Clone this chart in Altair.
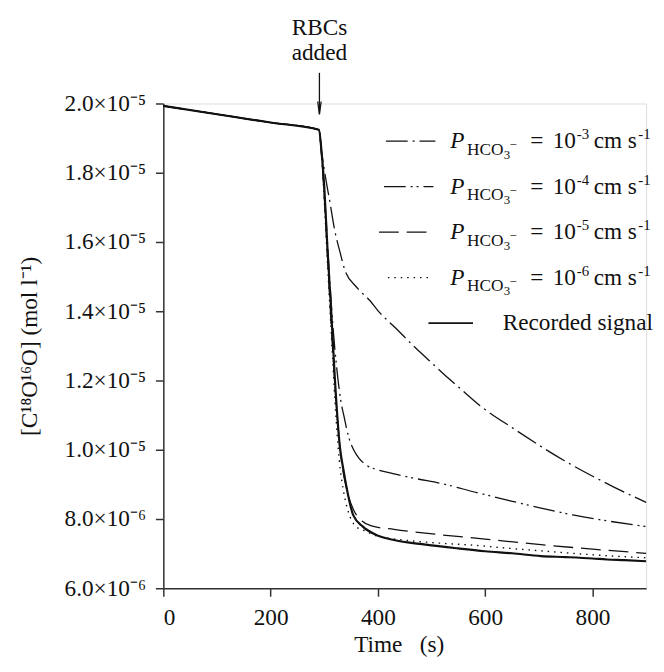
import altair as alt
import pandas as pd

# ---------------- data ----------------
t_rec = [0, 100, 200, 290, 295, 300, 306, 313, 320, 329, 336, 342, 354, 372, 397, 428,
         489, 550, 600, 650, 704, 750, 800, 827, 860, 900]
v_rec = [1.993e-5, 1.969e-5, 1.945e-5, 1.924e-5, 1.86e-5, 1.76e-5, 1.58e-5, 1.40e-5,
         1.20e-5, 1.01e-5, 9.4e-6, 8.88e-6, 8.11e-6, 7.78e-6, 7.54e-6, 7.40e-6,
         7.26e-6, 7.15e-6, 7.07e-6, 7.01e-6, 6.93e-6, 6.90e-6, 6.86e-6, 6.83e-6, 6.81e-6, 6.78e-6]

t_p3 = [0, 100, 200, 290, 295, 298, 301, 311, 320, 329, 338, 360, 385, 400, 434, 471, 501, 531,
        557, 590, 655, 747, 839, 900]
v_p3 = [1.993e-5, 1.969e-5, 1.945e-5, 1.924e-5, 1.86e-5, 1.83e-5, 1.80e-5, 1.711e-5, 1.63e-5,
        1.573e-5, 1.521e-5, 1.47e-5, 1.431e-5, 1.402e-5, 1.35e-5, 1.293e-5, 1.25e-5, 1.207e-5,
        1.172e-5, 1.128e-5, 1.059e-5, 9.69e-6, 8.93e-6, 8.48e-6]

t_p4 = [0, 100, 200, 290, 296, 302, 309, 316, 323, 330, 338, 345, 354, 365, 378, 400, 428, 470,
        520, 580, 643, 700, 766, 830, 900]
v_p4 = [1.993e-5, 1.969e-5, 1.945e-5, 1.924e-5, 1.84e-5, 1.70e-5, 1.52e-5, 1.36e-5, 1.24e-5,
        1.15e-5, 1.088e-5, 1.04e-5, 1.002e-5, 9.75e-6, 9.56e-6, 9.42e-6, 9.31e-6, 9.17e-6,
        9.02e-6, 8.78e-6, 8.54e-6, 8.33e-6, 8.11e-6, 7.94e-6, 7.78e-6]

t_p5 = [0, 100, 200, 290, 296, 302, 309, 316, 324, 332, 342, 355, 370, 388, 430, 520, 600, 704,
        800, 900]
v_p5 = [1.993e-5, 1.969e-5, 1.945e-5, 1.924e-5, 1.83e-5, 1.68e-5, 1.47e-5, 1.28e-5, 1.10e-5,
        9.7e-6, 8.85e-6, 8.25e-6, 7.95e-6, 7.80e-6, 7.70e-6, 7.54e-6, 7.42e-6, 7.26e-6,
        7.13e-6, 7.01e-6]

t_p6 = [0, 100, 200, 290, 295, 300, 306, 313, 320, 328, 336, 345, 358, 375, 400, 428, 500, 581,
        640, 704, 770, 827, 900]
v_p6 = [1.993e-5, 1.969e-5, 1.945e-5, 1.924e-5, 1.85e-5, 1.72e-5, 1.54e-5, 1.34e-5, 1.14e-5,
        9.7e-6, 8.8e-6, 8.2e-6, 7.8e-6, 7.66e-6, 7.50e-6, 7.43e-6, 7.32e-6, 7.24e-6,
        7.16e-6, 7.08e-6, 7.00e-6, 6.94e-6, 6.88e-6]

x_ticks = [0, 200, 400, 600, 800]
y_ticks = [6e-6, 8e-6, 1.0e-5, 1.2e-5, 1.4e-5, 1.6e-5, 1.8e-5, 2.0e-5]
exponents = ["-3", "-4", "-5", "-6"]
rbc_time = 291

# ---------------- style ----------------
FONT = "Liberation Serif"
FS = 23.5
INK = "#111111"
AX = "#333333"
W, H = 488, 490
OX, OY = 165, 101  # page position of plot origin

x_scale = alt.Scale(domain=[0, 900], nice=False, zero=False)
y_scale = alt.Scale(domain=[6e-6, 2e-5], nice=False, zero=False)

label_expr = ("datum.value >= 0.95e-5 ? format(datum.value*1e5, '.1f') + '×10⁻⁵' "
              ": format(datum.value*1e6, '.1f') + '×10⁻⁶'")

x_axis = alt.Axis(values=x_ticks, title="Time\u00a0\u00a0 (s)", grid=False,
                  labelFont=FONT, labelFontSize=FS, labelColor=INK,
                  titleFont=FONT, titleFontSize=FS, titleFontWeight="normal", titleColor=INK,
                  tickSize=8, tickWidth=1.5, tickColor=AX, domainColor=AX, domainWidth=1.5,
                  labelPadding=10, titleX=238, titleY=64, titleBaseline="alphabetic")
y_axis = alt.Axis(values=y_ticks, labelExpr=label_expr, title="[C¹⁸O¹⁶O] (mol l⁻¹)", grid=False,
                  labelFont=FONT, labelFontSize=FS, labelColor=INK,
                  titleFont=FONT, titleFontSize=FS, titleFontWeight="normal", titleColor=INK,
                  tickSize=8, tickWidth=1.5, tickColor=AX, domainColor=AX, domainWidth=1.5,
                  labelPadding=10, titleX=-128, titleY=H / 2, titleAngle=270,
                  titleBaseline="alphabetic", titleAlign="center")


def curve(ts, vs, dash, width):
    df = pd.DataFrame({"t": ts, "v": vs})
    kw = dict(interpolate="monotone", color=INK, strokeWidth=width)
    if dash:
        kw["strokeDash"] = dash
    return alt.Chart(df).mark_line(**kw).encode(
        x=alt.X("t:Q", scale=x_scale, axis=x_axis),
        y=alt.Y("v:Q", scale=y_scale, axis=y_axis),
    )


DASHES = [[22, 5, 2, 5], [22, 5, 2, 4, 2, 5], [20, 8], [1.5, 5]]

layers = [
    curve(t_p3, v_p3, DASHES[0], 1.3),
    curve(t_p4, v_p4, DASHES[1], 1.3),
    curve(t_p5, v_p5, DASHES[2], 1.3),
    curve(t_p6, v_p6, DASHES[3], 1.4),
    curve(t_rec, v_rec, None, 2.2),
]

one = alt.Data(values=[{}])


def txt(s, x, y, size=FS, italic=False, align="left"):
    kw = dict(text=s, font=FONT, fontSize=size, align=align, baseline="alphabetic", color=INK)
    if italic:
        kw["fontStyle"] = "italic"
    return alt.Chart(one).mark_text(**kw).encode(x=alt.value(x - OX), y=alt.value(y - OY))


def sample(x1, x2, y, dash, width):
    kw = dict(color=INK, strokeWidth=width)
    if dash:
        kw["strokeDash"] = dash
    return alt.Chart(one).mark_rule(**kw).encode(
        x=alt.value(x1 - OX), x2=alt.value(x2 - OX), y=alt.value(y - OY))


# legend
sample_spans = [(390, 440), (388, 438), (383, 438), (392, 435)]
for i, ex in enumerate(exponents):
    c = 139 + 46 * i
    b = c + 7
    x1, x2 = sample_spans[i]
    layers.append(sample(x1, x2, c, DASHES[i], 1.4))
    layers.append(txt("P", 455, b, italic=True))
    layers.append(txt("HCO", 472, b + 7, size=17.5))
    layers.append(txt("3", 509, b + 11, size=13))
    layers.append(txt("−", 515, b + 1, size=13))
    layers.append(txt("=", 536, b))
    layers.append(txt("10", 582, b, align="right"))
    layers.append(txt(ex, 583, b - 9, size=15))
    layers.append(txt("cm s", 600, b))
    layers.append(txt("-1", 645, b - 9, size=15))

layers.append(sample(433, 478, 323, None, 2.0))
layers.append(txt("Recorded signal", 508, 330))

# RBCs added annotation
ann = pd.DataFrame({"t": [rbc_time]})
layers.append(alt.Chart(ann).mark_text(text="RBCs", font=FONT, fontSize=FS, align="center",
                                       baseline="alphabetic", color=INK)
              .encode(x=alt.X("t:Q", scale=x_scale), y=alt.value(32 - OY)))
layers.append(alt.Chart(ann).mark_text(text="added", font=FONT, fontSize=FS, align="center",
                                       baseline="alphabetic", color=INK)
              .encode(x=alt.X("t:Q", scale=x_scale), y=alt.value(57 - OY)))
layers.append(alt.Chart(ann).mark_rule(color=INK, strokeWidth=1.3)
              .encode(x=alt.X("t:Q", scale=x_scale), y=alt.value(70 - OY), y2=alt.value(111 - OY)))
layers.append(alt.Chart(ann).mark_point(shape="M-0.27,-1L0,1L0.27,-1", size=169, filled=False,
                                        color=INK, strokeWidth=1.3, opacity=1)
              .encode(x=alt.X("t:Q", scale=x_scale), y=alt.value(105.5 - OY)))

chart = (
    alt.layer(*layers)
    .properties(
        width=W, height=H,
        autosize=alt.AutoSizeParams(type="none"),
        padding={"left": OX - 8, "top": OY - 8, "right": 10, "bottom": 70},
    )
    .configure_view(strokeWidth=0)
    .configure_axis(labelFont=FONT, titleFont=FONT)
    .configure_text(font=FONT)
    .configure(background="white", font=FONT)
)

chart.save("out.html", embed_options={"renderer": "svg", "actions": False})
